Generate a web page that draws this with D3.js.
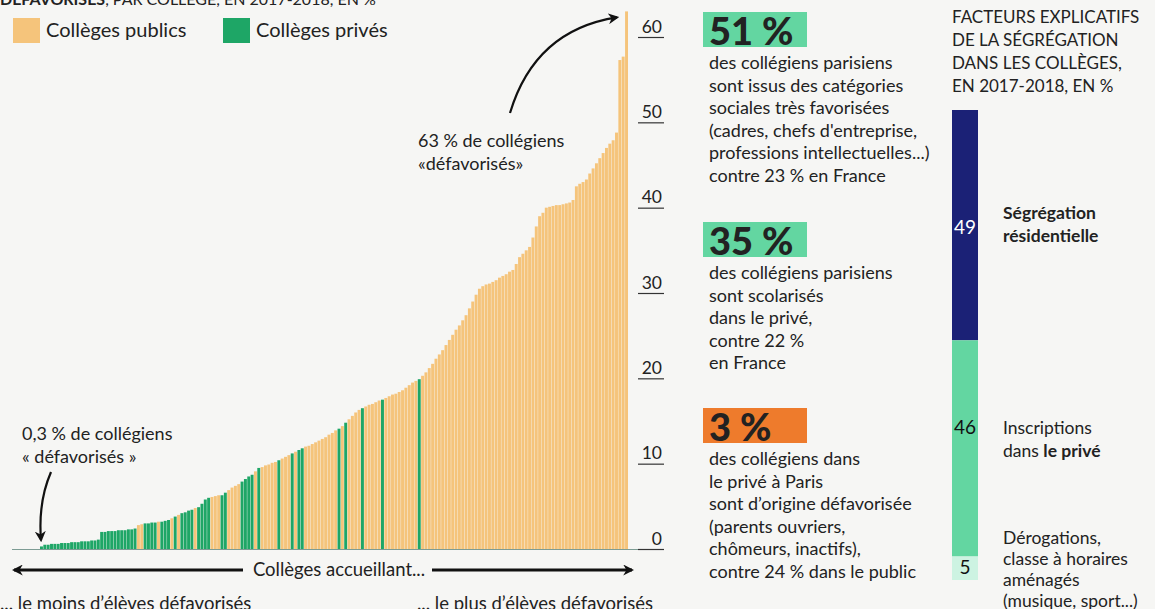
<!DOCTYPE html>
<html lang="fr">
<head>
  <meta charset="UTF-8">
  <title>Ségrégation sociale dans les collèges parisiens</title>
  <script src="https://d3js.org/d3.v7.min.js"></script>
  <style>
    body {
      margin: 0;
      background-color: #f6f6f4;
      font-family: Lato, 'Open Sans', sans-serif;
      overflow: hidden;
    }
    svg text { fill: #222; }
  </style>
</head>
<body>
  <svg id="chart" width="1155" height="609"></svg>
  <script>
    // Share of "défavorisés" pupils per collège, sorted (176 collèges)
    const shares = [
      0.3, 0.5, 0.5, 0.6, 0.6, 0.6, 0.7, 0.7, 0.7, 0.8, 0.8, 0.8, 0.9, 0.9, 0.9, 1.0, 1.0, 1.1,
      2.0, 2.0, 2.1, 2.1, 2.1, 2.2, 2.2, 2.2, 2.3, 2.3, 2.4,
      2.8, 2.9, 3.0, 3.0, 3.1, 3.1, 3.2, 3.2, 3.3, 3.4,
      3.6, 3.8, 4.0, 4.2, 4.3, 4.5, 4.6, 4.8, 4.9,
      5.3, 5.8, 6.0, 6.1, 6.2, 6.3, 6.3,
      6.6, 6.9, 7.2, 7.4, 7.6, 7.9,
      8.2, 8.5, 8.7, 9.1, 9.5,
      9.6, 9.8, 9.9, 10.1, 10.2, 10.4,
      10.6, 10.8, 11.0, 11.2, 11.4, 11.6, 11.8,
      12.0, 12.1, 12.3, 12.5, 12.7, 12.9, 13.1, 13.4, 13.6, 13.9,
      14.1, 14.4, 14.8, 15.2, 15.6, 16.0, 16.3,
      16.5, 16.7, 16.9, 17.0, 17.2, 17.4, 17.5,
      17.7, 17.9, 18.1, 18.2, 18.4,
      18.6, 18.9, 19.2, 19.5, 19.7, 19.9,
      20.3, 20.7, 21.2, 21.7, 22.3, 22.8, 23.3,
      23.9, 24.5, 25.1, 25.7, 26.2, 26.8, 27.4,
      28.2, 29.0, 29.8, 30.5, 30.8, 31.0,
      31.1, 31.3, 31.5, 31.8, 32.0, 32.2, 32.5, 32.7,
      33.4, 34.2, 34.6, 35.0, 35.4, 36.5, 37.8, 39.0, 39.4,
      40.0, 40.1, 40.2, 40.3, 40.3, 40.4, 40.5, 40.6,
      40.9, 42.5, 42.8, 43.0, 43.3, 44.0, 44.6, 45.2, 45.8, 46.4, 47.0, 47.5, 47.9, 48.8,
      57.3, 57.7, 63.0
    ];

    // ranks (in the sorted list above) of the private collèges
    const privateRanks = [
      0, 1, 2, 3, 4, 5, 6, 7, 8, 9, 10, 11, 12, 13, 14, 15, 16, 17, 18, 19, 20, 21, 22, 23, 24, 25, 26, 27, 28,
      31, 32, 33, 34, 36, 37, 38, 40, 42, 43, 44, 45, 47, 48, 49, 50, 54, 55,
      60, 61, 62, 63, 65, 71, 75, 77, 78, 89, 91, 96, 102, 113
    ];

    const yTicks = [0, 10, 20, 30, 40, 50, 60];

    const legendLabels = ["Collèges publics", "Collèges privés"];

    // right-hand stacked bar: factors of segregation
    const factorValues = [49, 46, 5];

    const colors = {
      pub: "#f5c47b",
      priv: "#1ea666",
      mint: "#63d6a1",
      orange: "#ee7b2c",
      navy: "#1b2176",
      pale: "#cdf3e2"
    };

    const svg = d3.select("#chart");

    // arrow markers
    const defs = svg.append("defs");
    defs.append("marker")
      .attr("id", "head")
      .attr("viewBox", "0 0 10 10")
      .attr("refX", 8).attr("refY", 5)
      .attr("markerUnits", "userSpaceOnUse")
      .attr("markerWidth", 11).attr("markerHeight", 11)
      .attr("orient", "auto-start-reverse")
      .append("path")
      .attr("d", "M0,0 L10,5 L0,10 L3,5 z")
      .attr("fill", "#111");

    // cut title at the very top
    const title = svg.append("text").attr("x", 0).attr("y", 5).style("font-size", "16px");
    title.append("tspan").style("font-weight", "bold").text("DÉFAVORISÉS");
    title.append("tspan").text(", PAR COLLÈGE, EN 2017-2018, EN %");

    // legend
    const legend = svg.append("g").selectAll("g")
      .data(legendLabels)
      .join("g")
      .attr("transform", (d, i) => `translate(${i === 0 ? 13 : 223},18)`);
    legend.append("rect")
      .attr("width", 27).attr("height", 25)
      .attr("fill", (d, i) => i === 0 ? colors.pub : colors.priv);
    legend.append("text")
      .attr("x", 33).attr("y", 19)
      .style("font-size", "20px")
      .text(d => d);

    // main bar chart
    const x = d3.scaleBand()
      .domain(d3.range(shares.length))
      .range([40, 628])
      .paddingInner(0.12);

    const y = d3.scaleLinear()
      .domain([0, 60])
      .range([549, 37]);

    const isPrivate = new Set(privateRanks);

    svg.append("line")
      .attr("x1", 12).attr("x2", 640)
      .attr("y1", y(0) + 0.5).attr("y2", y(0) + 0.5)
      .attr("stroke", "#7d9c94").attr("stroke-width", 1.2);

    svg.append("g").selectAll("rect")
      .data(shares)
      .join("rect")
      .attr("x", (d, i) => x(i))
      .attr("y", d => y(d))
      .attr("width", x.bandwidth())
      .attr("height", d => y(0) - y(d))
      .attr("fill", (d, i) => isPrivate.has(i) ? colors.priv : colors.pub);

    // y axis on the right, labels sitting on short rules
    const yAxis = svg.append("g")
      .attr("transform", "translate(638,0)")
      .call(d3.axisRight(y).tickValues(yTicks).tickSize(26).tickPadding(0));
    yAxis.select(".domain").remove();
    yAxis.selectAll(".tick line").attr("stroke", "#333").attr("stroke-width", 1.2);
    yAxis.selectAll(".tick text")
      .attr("x", 24).attr("dy", "-5")
      .attr("text-anchor", "end")
      .style("font-family", "Lato, sans-serif")
      .style("font-size", "17.5px")
      .attr("fill", "#333");

    // annotations on the chart
    function addLines(parent, lines, x0, y0, dy, size) {
      const t = parent.append("text").attr("x", x0).attr("y", y0).style("font-size", size + "px");
      lines.forEach((ln, i) => {
        const ts = t.append("tspan").attr("x", x0).attr("y", y0 + i * dy);
        (Array.isArray(ln) ? ln : [[ln, false]]).forEach(([txt, bold]) => {
          ts.append("tspan").style("font-weight", bold ? "bold" : null).text(txt);
        });
      });
      return t;
    }

    addLines(svg, ["0,3 % de collégiens", "« défavorisés »"], 22, 440, 23, 18);
    svg.append("path")
      .attr("d", `M51,472 Q38,502 ${x(0) + 1},${y(0) - 9}`)
      .attr("fill", "none").attr("stroke", "#111").attr("stroke-width", 2.2)
      .attr("marker-end", "url(#head)");

    addLines(svg, ["63 % de collégiens", "«défavorisés»"], 418, 147, 23, 18);
    svg.append("path")
      .attr("d", `M510,113 Q535,30 ${x(shares.length - 1) - 8},${y(63) + 6}`)
      .attr("fill", "none").attr("stroke", "#111").attr("stroke-width", 2.2)
      .attr("marker-end", "url(#head)");

    // bottom arrows
    svg.append("line")
      .attr("x1", 14).attr("x2", 243).attr("y1", 570).attr("y2", 570)
      .attr("stroke", "#111").attr("stroke-width", 3)
      .attr("marker-start", "url(#head)");
    svg.append("line")
      .attr("x1", 432).attr("x2", 632).attr("y1", 570).attr("y2", 570)
      .attr("stroke", "#111").attr("stroke-width", 3)
      .attr("marker-end", "url(#head)");
    svg.append("text").attr("x", 339).attr("y", 576)
      .attr("text-anchor", "middle").style("font-size", "18.5px")
      .text("Collèges accueillant...");
    svg.append("text").attr("x", 0).attr("y", 610).style("font-size", "18.5px")
      .text("... le moins d’élèves défavorisés");
    svg.append("text").attr("x", 417).attr("y", 610).style("font-size", "18.5px")
      .text("... le plus d’élèves défavorisés");

    // key figures
    const figures = [
      { big: "51 %", fill: colors.mint, top: 12, lines: [
        "des collégiens parisiens", "sont issus des catégories", "sociales très favorisées",
        "(cadres, chefs d'entreprise,", "professions intellectuelles...)", "contre 23 % en France"] },
      { big: "35 %", fill: colors.mint, top: 222, lines: [
        "des collégiens parisiens", "sont scolarisés", "dans le privé,", "contre 22 %", "en France"] },
      { big: "3 %", fill: colors.orange, top: 408, lines: [
        "des collégiens dans", "le privé à Paris", "sont d’origine défavorisée",
        "(parents ouvriers,", "chômeurs, inactifs),", "contre 24 % dans le public"] }
    ];

    figures.forEach(f => {
      const g = svg.append("g");
      g.append("rect")
        .attr("x", 703).attr("y", f.top)
        .attr("width", 104).attr("height", 35)
        .attr("fill", f.fill);
      g.append("text")
        .attr("x", 709).attr("y", f.top + 33)
        .style("font-size", "38px").style("font-weight", "900")
        .text(f.big);
      addLines(g, f.lines, 709, f.top + 57, 22.6, 18);
    });

    // factors of segregation
    addLines(svg, ["FACTEURS EXPLICATIFS", "DE LA SÉGRÉGATION", "DANS LES COLLÈGES,", "EN 2017-2018, EN %"],
      952, 23, 23, 17).attr("fill", "#333");

    const s = d3.scaleLinear().domain([0, 100]).range([110, 580]);
    const ends = d3.cumsum(factorValues);
    const segFill = [colors.navy, colors.mint, colors.pale];
    const segText = ["#fff", "#111", "#111"];
    const labelShift = [9, -14, 6];

    svg.append("g").selectAll("rect")
      .data(factorValues)
      .join("rect")
      .attr("x", 952)
      .attr("y", (d, i) => s(ends[i] - d))
      .attr("width", 26)
      .attr("height", d => s(d) - s(0))
      .attr("fill", (d, i) => segFill[i]);

    svg.append("g").selectAll("text")
      .data(factorValues)
      .join("text")
      .attr("x", 965)
      .attr("y", (d, i) => s(ends[i] - d / 2) + labelShift[i])
      .attr("text-anchor", "middle")
      .style("font-size", "19px")
      .style("fill", (d, i) => segText[i])
      .text(d => d);

    const factorLines = [
      [[["Ségrégation", true]], [["résidentielle", true]]],
      [[["Inscriptions", false]], [["dans ", false], ["le privé", true]]],
      [[["Dérogations,", false]], [["classe à horaires", false]], [["aménagés", false]], [["(musique, sport...)", false]]]
    ];
    const factorShift = [-6, -14, -24];
    const factorStep = [23, 23, 21];
    factorLines.forEach((lines, i) => {
      addLines(svg, lines, 1003, s(ends[i] - factorValues[i] / 2) + factorShift[i], factorStep[i], 17.5);
    });
  </script>
</body>
</html>
